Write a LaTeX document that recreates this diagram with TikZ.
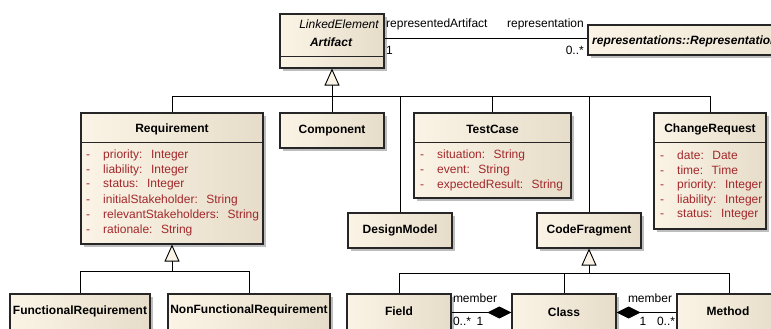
\documentclass[tikz,border=0pt]{standalone}
\usepackage{fontspec}
\setmainfont{Liberation Sans}
\usetikzlibrary{arrows.meta,shadows}
\definecolor{boxL}{HTML}{FBF4E6}
\definecolor{boxR}{HTML}{E6DCC9}
\definecolor{attrc}{HTML}{A3282B}
\definecolor{shd}{HTML}{BEBEBE}
\definecolor{edgec}{HTML}{262626}
\newcommand\gp{\hspace{8.5pt}}
\newcommand\dsh{\makebox[17pt][l]{-}}
\tikzset{
  umlbox/.style={rectangle, draw=edgec, line width=1.1pt, left color=boxL, right color=boxR,
    drop shadow={shadow xshift=3pt, shadow yshift=-3pt, fill=shd, opacity=1}, inner sep=0pt},
  txt/.style={font=\fontsize{12}{14}\selectfont, inner sep=0pt},
  ttl/.style={txt, font=\fontsize{12}{14}\selectfont\bfseries},
  attr/.style={txt, text=attrc, anchor=west},
  sepline/.style={draw=edgec, line width=1.1pt},
  conn/.style={draw=black, line width=0.9pt},
  gen/.style={conn, -{Triangle[length=17pt,width=15pt,fill=boxL]}},
  compo/.style={conn, {Diamond[length=24pt,width=12pt]}-}
}
\begin{document}
\begin{tikzpicture}[x=1pt,y=-1pt]
\useasboundingbox (0,0) rectangle (771,329);
\clip (0,0) rectangle (771,329);

% Artifact
\node[umlbox, minimum width=104pt, minimum height=54pt] (art) at (332,41) {};
\draw[sepline] ([yshift=-43pt]art.north west) -- ([yshift=-43pt]art.north east);
\node[txt, font=\fontsize{12}{14}\selectfont\itshape] (art-s) at (339,24) {LinkedElement};
\node[ttl, font=\fontsize{12}{14}\selectfont\bfseries\itshape] (art-t) at (331,42) {Artifact};

% Representation
\node[umlbox, minimum width=312pt, minimum height=30pt] (rep) at (744,40) {};
\node[ttl, font=\fontsize{12}{14}\selectfont\bfseries\itshape, anchor=west] (rep-t) at (592,41) {representations::Representation};

% Requirement
\node[umlbox, minimum width=182pt, minimum height=131pt] (req) at (172,178.5) {};
\draw[sepline] ([yshift=-30pt]req.north west) -- ([yshift=-30pt]req.north east);
\node[ttl] (req-t) at (172,129) {Requirement};
\foreach \t [count=\i] in {priority:\gp Integer, liability:\gp Integer, status:\gp Integer,
  initialStakeholder:\gp String, relevantStakeholders:\gp String, rationale:\gp String}
  \node[attr] (req-a\i) at (86,{140+15*\i}) {\dsh\t};

% Component
\node[umlbox, minimum width=104pt, minimum height=35pt] (comp) at (332,130.5) {};
\node[ttl] (comp-t) at (comp) {Component};

% DesignModel
\node[umlbox, minimum width=104pt, minimum height=35pt] (dm) at (400,230.5) {};
\node[ttl] (dm-t) at (dm) {DesignModel};

% TestCase
\node[umlbox, minimum width=157pt, minimum height=85pt] (tc) at (492.5,155.5) {};
\draw[sepline] ([yshift=-30pt]tc.north west) -- ([yshift=-30pt]tc.north east);
\node[ttl] (tc-t) at (492.5,129) {TestCase};
\foreach \t [count=\i] in {situation:\gp String, event:\gp String, expectedResult:\gp String}
  \node[attr] (tc-a\i) at (420,{140+15*\i}) {\dsh\t};

% CodeFragment
\node[umlbox, minimum width=104pt, minimum height=35pt] (cf) at (589,230.5) {};
\node[ttl] (cf-t) at (cf) {CodeFragment};

% ChangeRequest
\node[umlbox, minimum width=112pt, minimum height=116pt] (cr) at (710,171) {};
\draw[sepline] ([yshift=-30pt]cr.north west) -- ([yshift=-30pt]cr.north east);
\node[ttl] (cr-t) at (710,129) {ChangeRequest};
\foreach \t [count=\i] in {date:\gp Date, time:\gp Time, priority:\gp Integer,
  liability:\gp Integer, status:\gp Integer}
  \node[attr] (cr-a\i) at (660,{140+15*\i}) {\dsh\t};

% bottom row
\node[umlbox, minimum width=140pt, minimum height=37pt] (fr) at (80,312.5) {};
\node[ttl] (fr-t) at (80,311) {FunctionalRequirement};
\node[umlbox, minimum width=162pt, minimum height=37pt] (nfr) at (249,312.5) {};
\node[ttl] (nfr-t) at (249,310) {NonFunctionalRequirement};
\node[umlbox, minimum width=104pt, minimum height=37pt] (field) at (399,312.5) {};
\node[ttl] (field-t) at (399,311) {Field};
\node[umlbox, minimum width=104pt, minimum height=37pt] (cls) at (564,312.5) {};
\node[ttl] (cls-t) at (564,312) {Class};
\node[umlbox, minimum width=104pt, minimum height=37pt] (meth) at (729,312.5) {};
\node[ttl] (meth-t) at (728,311) {Method};

% generalizations
\coordinate (genA) at (332,96);
\foreach \c in {req,comp,dm,tc,cf,cr}
  \draw[conn] (\c.north) |- (genA);
\draw[gen] (genA) -- (art.south);

\coordinate (genB) at (172,271);
\foreach \c in {fr,nfr}
  \draw[conn] (\c.north) |- (genB);
\draw[gen] (genB) -- (req.south);

\coordinate (genC) at (589,273);
\foreach \c in {field,cls,meth}
  \draw[conn] (\c.north) |- (genC);
\draw[gen] (genC) -- (cf.south);

% association Artifact -- Representation
\draw[conn] ([yshift=3pt]art.east) -- ([yshift=3pt]art.east -| rep.west);
\node[txt, anchor=west] (l1) at (386,24) {representedArtifact};
\node[txt, anchor=west] (l2) at (386,50) {1};
\node[txt, anchor=east] (l3) at (584,24) {representation};
\node[txt, anchor=east] (l4) at (584,50) {0..*};

% compositions
\draw[compo] (cls.west) -- (field.east);
\draw[compo] (cls.east) -- (meth.west);
\node[txt] (m1) at (475,298) {member};
\node[txt] (m1a) at (462,321) {0..*};
\node[txt] (m1b) at (480,321) {1};
\node[txt] (m2) at (650,298) {member};
\node[txt] (m2a) at (643,321) {1};
\node[txt] (m2b) at (666,321) {0..*};
\end{tikzpicture}
\end{document}
